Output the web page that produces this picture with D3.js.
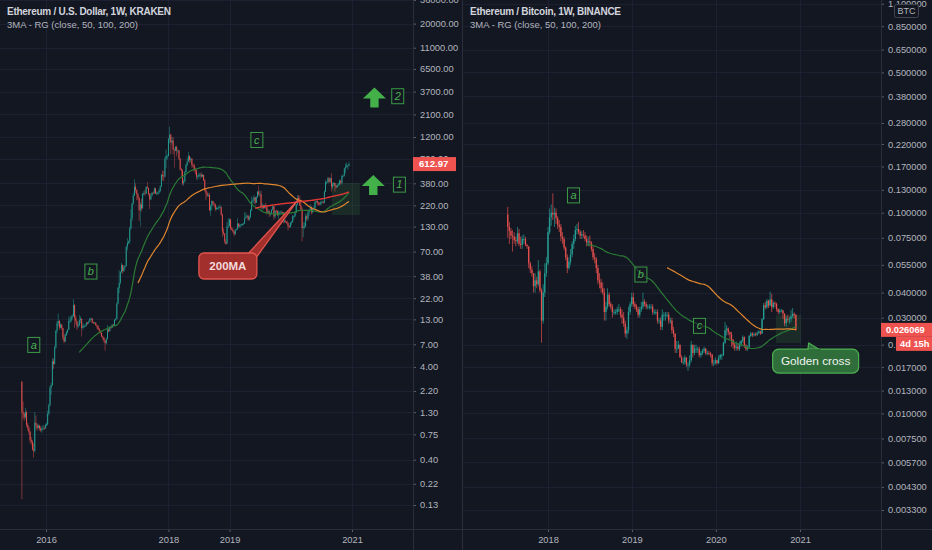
<!DOCTYPE html>
<html><head><meta charset="utf-8">
<script src="https://cdn.jsdelivr.net/npm/d3@7"></script>
<style>
html,body{margin:0;padding:0;background:#131722;overflow:hidden;}
svg{display:block;}
</style></head><body>
<svg id="c" width="932" height="550"></svg>
<script>
// ---------------- DATA ----------------
// Weekly candles [high, low, close]; open = previous close
const ethUsdStart = "2015-08-10";
const ethUsdFirstOpen = 2.77;
const ethUsd2015 = [[2.8,0.15,1.3],[1.7,1.1,1.25],[1.3,1.05,1.15],[1.45,1.1,1.3],[1.35,0.9,0.95],[1.0,0.82,0.88],[0.92,0.75,0.8],[0.82,0.6,0.65],[0.7,0.58,0.62],[0.65,0.5,0.52],[0.6,0.42,0.5],[1.3,0.48,1.0],[1.2,0.85,0.95],[0.98,0.82,0.88],[0.98,0.85,0.93],[0.95,0.82,0.87],[0.92,0.8,0.83],[0.92,0.78,0.86],[0.95,0.82,0.88],[0.92,0.84,0.87],[0.98,0.85,0.95]];
const ethUsd2016 = [[1.0,0.92,0.96],[1.35,0.93,1.25],[1.6,1.2,1.55],[2.5,1.5,2.4],[2.7,2.0,2.55],[5.0,2.5,4.6],[4.9,3.8,4.3],[6.8,4.2,6.5],[10.0,6.2,9.8],[12.5,9.2,11.8],[15.0,11.0,12.5],[12.8,10.0,10.6],[12.0,10.4,11.4],[11.6,10.0,10.5],[10.6,7.8,8.3],[9.0,7.2,7.5],[9.2,7.4,8.8],[9.8,8.6,9.4],[10.3,9.2,10.0],[14.0,10.0,12.5],[13.5,12.0,12.6],[14.5,12.0,14.0],[14.8,13.0,14.0],[21.5,14.0,18.5],[19.0,10.5,13.5],[14.5,11.5,12.5],[12.6,10.0,10.9],[12.0,10.5,11.2],[14.5,11.0,12.8],[14.0,11.8,13.2],[13.3,8.5,10.5],[12.0,10.0,11.0],[11.5,10.5,11.0],[11.5,10.7,11.2],[12.3,10.9,12.0],[12.2,11.4,11.8],[12.6,11.6,12.3],[13.5,12.2,13.2],[13.6,12.8,13.3],[13.4,11.8,12.0],[12.3,11.6,11.9],[12.2,11.8,12.0],[12.1,11.0,11.3],[11.4,10.3,11.0],[11.2,10.0,10.2],[10.5,9.5,9.8],[9.9,9.0,9.3],[9.4,8.3,8.5],[8.7,7.8,8.3],[8.4,7.3,7.7],[7.9,6.0,7.2],[8.3,7.0,8.0]];
const ethUsd2017 = [[11.3,7.9,10.1],[10.5,9.4,9.7],[11.0,9.6,10.7],[10.9,10.3,10.6],[11.6,10.5,11.4],[11.6,10.9,11.3],[13.0,11.2,12.8],[13.6,12.5,13.2],[19.8,13.0,19.2],[29.0,18.8,28.4],[44.0,25.0,32.2],[43.0,31.0,42.0],[53.0,41.0,50.0],[51.0,40.0,43.0],[50.0,42.0,47.5],[50.0,45.0,49.0],[80.0,48.0,79.0],[98.0,72.0,87.0],[92.0,84.0,90.0],[130.0,85.0,124.0],[200.0,120.0,158.0],[235.0,150.0,230.0],[300.0,225.0,280.0],[420.0,280.0,350.0],[380.0,300.0,320.0],[330.0,250.0,290.0],[300.0,250.0,265.0],[270.0,150.0,195.0],[240.0,130.0,225.0],[260.0,190.0,205.0],[300.0,200.0,295.0],[315.0,280.0,300.0],[325.0,280.0,295.0],[350.0,290.0,350.0],[395.0,330.0,340.0],[340.0,280.0,295.0],[300.0,200.0,255.0],[295.0,250.0,280.0],[305.0,275.0,300.0],[310.0,290.0,298.0],[345.0,295.0,335.0],[340.0,290.0,295.0],[310.0,285.0,295.0],[310.0,285.0,305.0],[330.0,290.0,315.0],[360.0,305.0,350.0],[480.0,350.0,470.0],[520.0,410.0,460.0],[520.0,400.0,450.0],[730.0,440.0,700.0],[880.0,560.0,750.0],[780.0,680.0,750.0]];
const ethUsd2018 = [[1170,740,1150],[1550,1030,1270],[1300,780,1050],[1200,990,1100],[1200,780,880],[900,560,860],[960,840,940],[970,740,860],[880,800,860],[870,680,700],[710,520,540],[560,450,520],[540,360,380],[420,360,400],[520,390,500],[620,500,600],[710,580,650],[830,650,750],[760,630,680],[730,640,700],[710,560,600],[620,560,590],[620,500,530],[560,470,520],[540,420,450],[470,410,455],[495,440,470],[490,425,470],[500,440,450],[480,440,470],[470,400,410],[420,310,320],[325,250,300],[310,270,280],[300,270,285],[300,190,195],[225,170,215],[250,195,245],[245,220,230],[235,210,225],[230,190,200],[215,195,205],[210,200,205],[220,195,210],[225,205,210],[215,170,175],[180,100,115],[125,105,110],[110,85,90],[95,82,85],[145,85,130],[160,125,133],[160,130,155]];
const ethUsd2019 = [[158,120,125],[130,118,120],[125,112,115],[118,102,108],[122,105,120],[124,118,122],[160,120,140],[142,126,130],[138,125,135],[140,130,138],[142,132,138],[143,135,140],[185,140,160],[185,160,165],[175,160,170],[175,150,155],[170,150,165],[200,160,195],[275,190,245],[265,230,250],[285,230,270],[270,225,235],[275,235,270],[315,265,310],[360,280,290],[320,270,290],[315,200,210],[235,190,220],[225,200,205],[225,205,220],[235,200,210],[215,175,185],[200,180,190],[195,165,178],[185,168,180],[200,175,198],[225,195,215],[215,155,167],[195,160,192],[197,175,190],[195,170,172],[195,155,183],[190,175,185],[195,180,187],[190,180,185],[185,140,150],[155,142,150],[155,143,148],[150,138,141],[145,118,132],[135,125,128],[145,127,143]];
const ethUsd2020 = [[150,135,145],[175,143,168],[172,155,168],[190,165,185],[228,180,225],[285,220,265],[285,245,250],[280,215,218],[250,195,200],[210,90,125],[145,100,130],[145,122,130],[180,128,168],[175,150,158],[190,150,185],[200,170,195],[228,190,210],[215,175,185],[205,180,200],[215,195,205],[245,198,240],[250,230,245],[250,220,235],[240,220,230],[240,220,225],[245,220,240],[250,235,240],[245,228,235],[320,232,310],[415,305,390],[400,370,390],[445,380,430],[445,380,395],[440,385,430],[490,310,350],[390,330,370],[390,355,385],[385,310,355],[365,335,345],[370,340,365],[385,360,370],[420,360,405],[415,370,385],[470,370,455],[475,440,460],[560,450,550],[620,490,570],[635,560,590],[605,530,590],[650,580,612.97]];

const ethBtcStart = "2017-07-10";
const ethBtcFirstOpen = 0.098;
const ethBtc2017 = [[0.107,0.075,0.085],[0.09,0.07,0.081],[0.084,0.074,0.077],[0.082,0.064,0.076],[0.08,0.07,0.073],[0.076,0.068,0.072],[0.085,0.07,0.079],[0.083,0.068,0.07],[0.076,0.066,0.069],[0.077,0.066,0.074],[0.078,0.07,0.074],[0.076,0.068,0.069],[0.07,0.066,0.068],[0.068,0.053,0.056],[0.057,0.05,0.052],[0.054,0.048,0.05],[0.05,0.04,0.043],[0.05,0.04,0.046],[0.048,0.042,0.044],[0.058,0.043,0.051],[0.052,0.04,0.041],[0.042,0.0225,0.029],[0.044,0.028,0.04],[0.056,0.038,0.05],[0.06,0.048,0.056]];
const ethBtc2018 = [[0.085,0.055,0.08],[0.105,0.078,0.095],[0.11,0.086,0.1],[0.125,0.092,0.098],[0.106,0.085,0.1],[0.105,0.088,0.094],[0.096,0.083,0.087],[0.092,0.08,0.085],[0.088,0.072,0.076],[0.08,0.07,0.074],[0.076,0.065,0.067],[0.068,0.058,0.06],[0.062,0.05,0.053],[0.06,0.052,0.057],[0.066,0.055,0.062],[0.072,0.06,0.07],[0.078,0.066,0.074],[0.086,0.072,0.082],[0.088,0.078,0.083],[0.09,0.078,0.08],[0.082,0.074,0.077],[0.081,0.074,0.078],[0.082,0.075,0.077],[0.08,0.072,0.074],[0.077,0.068,0.071],[0.076,0.068,0.072],[0.077,0.068,0.071],[0.072,0.064,0.066],[0.068,0.058,0.06],[0.063,0.056,0.059],[0.06,0.05,0.053],[0.055,0.044,0.046],[0.05,0.042,0.045],[0.047,0.04,0.042],[0.045,0.039,0.04],[0.042,0.029,0.032],[0.036,0.029,0.034],[0.042,0.033,0.039],[0.04,0.034,0.035],[0.036,0.033,0.034],[0.035,0.03,0.032],[0.033,0.031,0.032],[0.033,0.031,0.032],[0.034,0.031,0.033],[0.035,0.032,0.033],[0.034,0.03,0.031],[0.033,0.028,0.03],[0.032,0.027,0.028],[0.029,0.024,0.025],[0.027,0.0235,0.026],[0.034,0.025,0.032],[0.036,0.031,0.035],[0.04,0.034,0.038]];
const ethBtc2019 = [[0.04,0.034,0.035],[0.036,0.033,0.034],[0.035,0.032,0.033],[0.034,0.03,0.031],[0.034,0.03,0.033],[0.036,0.032,0.034],[0.04,0.033,0.036],[0.037,0.034,0.035],[0.036,0.033,0.034],[0.035,0.033,0.034],[0.035,0.033,0.034],[0.035,0.033,0.034],[0.035,0.031,0.032],[0.033,0.031,0.032],[0.033,0.031,0.032],[0.033,0.028,0.029],[0.03,0.028,0.029],[0.03,0.026,0.027],[0.033,0.026,0.031],[0.032,0.029,0.031],[0.032,0.029,0.031],[0.032,0.03,0.031],[0.032,0.028,0.029],[0.03,0.028,0.029],[0.03,0.025,0.026],[0.027,0.024,0.025],[0.025,0.02,0.021],[0.023,0.02,0.021],[0.023,0.021,0.022],[0.022,0.019,0.019],[0.0195,0.0178,0.018],[0.019,0.0175,0.018],[0.0195,0.0175,0.019],[0.019,0.017,0.0175],[0.018,0.0163,0.0175],[0.0195,0.017,0.0184],[0.023,0.018,0.022],[0.022,0.019,0.02],[0.022,0.0195,0.021],[0.022,0.02,0.021],[0.0215,0.02,0.021],[0.0215,0.019,0.0195],[0.0205,0.019,0.02],[0.021,0.0195,0.0205],[0.0215,0.02,0.021],[0.0212,0.0195,0.02],[0.0205,0.0195,0.02],[0.0205,0.0195,0.0199],[0.0202,0.019,0.0196],[0.0198,0.0172,0.0178],[0.0185,0.0172,0.0178],[0.019,0.0175,0.0184]];
const ethBtc2020 = [[0.0185,0.0175,0.0178],[0.0195,0.0176,0.0189],[0.0198,0.0185,0.0195],[0.0198,0.0185,0.0195],[0.0228,0.0193,0.0225],[0.0285,0.0222,0.026],[0.0275,0.0245,0.0265],[0.0268,0.0245,0.0254],[0.0256,0.0235,0.0248],[0.0255,0.0215,0.0233],[0.0235,0.021,0.022],[0.0225,0.0205,0.0212],[0.0228,0.0206,0.0215],[0.0222,0.0205,0.021],[0.0228,0.0205,0.022],[0.0232,0.0215,0.023],[0.0245,0.0225,0.024],[0.0242,0.0212,0.0218],[0.0222,0.0205,0.0209],[0.0218,0.0205,0.0214],[0.0246,0.021,0.0243],[0.0255,0.024,0.025],[0.0254,0.024,0.0245],[0.0253,0.0242,0.0248],[0.0253,0.0242,0.0247],[0.0256,0.0243,0.0252],[0.026,0.0248,0.0256],[0.0258,0.0246,0.025],[0.0298,0.0249,0.0295],[0.0355,0.0292,0.0346],[0.036,0.033,0.0338],[0.0372,0.0332,0.0364],[0.0368,0.0335,0.0345],[0.0405,0.0342,0.037],[0.0395,0.032,0.0338],[0.0362,0.0332,0.0354],[0.0362,0.0338,0.0352],[0.0356,0.0322,0.0331],[0.0334,0.0312,0.032],[0.0332,0.0312,0.0325],[0.0332,0.0318,0.0326],[0.0328,0.0295,0.0314],[0.0316,0.0272,0.0281],[0.0305,0.027,0.0296],[0.031,0.0285,0.0295],[0.0302,0.028,0.0296],[0.0328,0.0285,0.0305],[0.0335,0.0298,0.0314],[0.0318,0.0298,0.031],[0.0312,0.0258,0.026069]];

const usdTicks = [36000,20000,11000,6500,3700,2100,1200,700,380,220,130,70,38,22,13,7,4,2.2,1.3,0.75,0.4,0.22,0.13];
const btcTicks = [1.1,0.85,0.65,0.5,0.38,0.28,0.22,0.17,0.13,0.1,0.075,0.055,0.04,0.03,0.022,0.017,0.013,0.01,0.0075,0.0057,0.0043,0.0033];
const usdYears = [2016,2018,2019,2021];
const btcYears = [2018,2019,2020,2021];
const maPeriods = [50,100,200];

const usdTitle = "Ethereum / U.S. Dollar, 1W, KRAKEN";
const btcTitle = "Ethereum / Bitcoin, 1W, BINANCE";
const indicatorTitle = "3MA - RG (close, 50, 100, 200)";
const usdLast = 612.97, btcLast = 0.026069, btcCountdown = "4d 15h";

// ---------------- HELPERS ----------------
const BG='#131722', GRID='#1c2030', BORDER='#2a2e39', TXT='#b2b5be';
const UP='#26a69a', DOWN='#ef5350';
const MA_COL = {50:'#2b7a35', 100:'#e0872d', 200:'#e53935'};
const FONT='"Liberation Sans", Arial, sans-serif';
const svg = d3.select('#c');
svg.append('rect').attr('width',932).attr('height',550).attr('fill',BG);

function utc(s){ return new Date(s+'T00:00:00Z'); }
function buildCandles(start, firstOpen, rows){
  const t0 = utc(start).getTime(); let prev = firstOpen;
  return rows.map((r,i)=>{ const c={date:new Date(t0+i*7*864e5), open:prev, high:r[0], low:r[1], close:r[2]}; prev=r[2]; return c; });
}
function sma(candles, n){
  const out=[];
  for(let i=n-1;i<candles.length;i++){
    let s=0; for(let k=i-n+1;k<=i;k++) s+=candles[k].close;
    out.push({date:candles[i].date, v:s/n});
  }
  return out;
}

const usdCandles = buildCandles(ethUsdStart, ethUsdFirstOpen, [].concat(ethUsd2015,ethUsd2016,ethUsd2017,ethUsd2018,ethUsd2019,ethUsd2020));
const btcCandles = buildCandles(ethBtcStart, ethBtcFirstOpen, [].concat(ethBtc2017,ethBtc2018,ethBtc2019,ethBtc2020));

function drawPanel(cfg){
  const g = svg.append('g');
  const id = 'clip'+cfg.key;
  svg.append('clipPath').attr('id',id).append('rect').attr('x',cfg.x0).attr('y',0).attr('width',cfg.x1-cfg.x0).attr('height',cfg.yBot);
  const x = cfg.x, y = cfg.y;
  // grid
  const grid = g.append('g').attr('clip-path',`url(#${id})`);
  grid.selectAll('line.h').data(cfg.ticks).join('line')
    .attr('x1',cfg.x0).attr('x2',cfg.x1).attr('y1',d=>Math.round(y(d))+0.5).attr('y2',d=>Math.round(y(d))+0.5)
    .attr('stroke',GRID).attr('stroke-width',1);
  const yearDates = cfg.years.map(yr=>new Date(Date.UTC(yr,0,1)));
  grid.selectAll('line.v').data(yearDates).join('line')
    .attr('x1',d=>Math.round(x(d))+0.5).attr('x2',d=>Math.round(x(d))+0.5).attr('y1',0).attr('y2',cfg.yBot)
    .attr('stroke',GRID).attr('stroke-width',1);

  const plot = g.append('g').attr('clip-path',`url(#${id})`);
  // shaded box
  if(cfg.shade){
    const s=cfg.shade;
    plot.append('rect').attr('x',x(utc(s.d0))).attr('width',x(utc(s.d1))-x(utc(s.d0)))
      .attr('y',y(s.p1)).attr('height',y(s.p0)-y(s.p1)).attr('fill','rgba(76,175,80,0.14)');
  }
  // candles
  const wk = x(new Date(Date.UTC(2019,0,8))) - x(new Date(Date.UTC(2019,0,1)));
  const bw = Math.max(0.9, wk*0.82);
  const cg = plot.append('g');
  cg.selectAll('line').data(cfg.candles).join('line')
    .attr('x1',d=>x(d.date)).attr('x2',d=>x(d.date))
    .attr('y1',d=>y(Math.max(d.high,d.open,d.close))).attr('y2',d=>y(Math.min(d.low,d.open,d.close)))
    .attr('stroke',d=>d.close>=d.open?UP:DOWN).attr('stroke-width',Math.min(0.8,bw*0.6)).attr('opacity',0.85);
  cg.selectAll('rect').data(cfg.candles).join('rect')
    .attr('x',d=>x(d.date)-bw/2).attr('width',bw)
    .attr('y',d=>y(Math.max(d.open,d.close)))
    .attr('height',d=>Math.max(0.8, y(Math.min(d.open,d.close))-y(Math.max(d.open,d.close))))
    .attr('fill',d=>d.close>=d.open?UP:DOWN).attr('opacity',0.9);
  // moving averages
  const line = d3.line().x(d=>x(d.date)).y(d=>y(d.v));
  maPeriods.forEach(n=>{
    const m = sma(cfg.candles,n);
    if(m.length<2) return;
    plot.append('path').datum(m).attr('d',line).attr('fill','none')
      .attr('stroke',MA_COL[n]).attr('stroke-width',n===200?1.4:1.2);
  });

  // price axis
  const ax = d3.axisRight(y).tickValues(cfg.ticks).tickFormat(cfg.fmt).tickSize(3).tickPadding(4);
  const ag = svg.append('g').attr('transform',`translate(${cfg.x1},0)`).call(ax);
  ag.select('.domain').remove();
  ag.selectAll('line').attr('stroke','#5d606b');
  ag.selectAll('text').attr('fill',TXT).attr('font-size',9.3).attr('font-family',FONT);

  // time axis
  const tx = d3.axisBottom(x).tickValues(yearDates).tickFormat(d3.utcFormat('%Y')).tickSize(3).tickPadding(4);
  const tg = svg.append('g').attr('transform',`translate(0,${cfg.yBot})`).call(tx);
  tg.select('.domain').remove();
  tg.selectAll('line').attr('stroke','#5d606b');
  tg.selectAll('text').attr('fill',TXT).attr('font-size',9.3).attr('font-family',FONT);

  // borders
  svg.append('line').attr('x1',cfg.x1+0.5).attr('x2',cfg.x1+0.5).attr('y1',0).attr('y2',550).attr('stroke',BORDER);
  svg.append('line').attr('x1',cfg.x0).attr('x2',cfg.xEnd).attr('y1',cfg.yBot+0.5).attr('y2',cfg.yBot+0.5).attr('stroke',BORDER);

  // titles
  svg.append('text').attr('x',cfg.x0+7).attr('y',15).attr('fill','#d1d4dc').attr('font-size',10).attr('font-family',FONT).attr('font-weight',600).attr('textLength',cfg.titleLen).text(cfg.title);
  svg.append('text').attr('x',cfg.x0+7).attr('y',28).attr('fill','#b2b5be').attr('font-size',9.5).attr('font-family',FONT).text(indicatorTitle);
  return g;
}

function letterBox(g, x, y, t){
  g.append('rect').attr('x',x-6).attr('y',y-7.5).attr('width',12).attr('height',15)
    .attr('fill','rgba(19,23,34,0.5)').attr('stroke','#3c9a47').attr('stroke-width',1);
  g.append('text').attr('x',x).attr('y',y+3.6).attr('text-anchor','middle').attr('font-style','italic')
    .attr('font-size',11).attr('font-family',FONT).attr('fill','#4caf50').text(t);
}
function upArrow(g,cx,cy){
  const p=`M${cx},${cy-10} L${cx+11.5},${cy+1} L${cx+4.2},${cy+1} L${cx+4.2},${cy+10} L${cx-4.2},${cy+10} L${cx-4.2},${cy+1} L${cx-11.5},${cy+1} Z`;
  g.append('path').attr('d',p).attr('fill','#43b04a');
}

// ---------------- LEFT PANEL ----------------
const xL = d3.scaleUtc().domain([utc('2016-01-01'),utc('2021-01-01')]).range([46,352]);
const yL = d3.scaleLog().domain([0.13,1200]).range([505,137]);
const gL = drawPanel({key:'L', x0:0, x1:413, xEnd:462, yBot:529, x:xL, y:yL, ticks:usdTicks,
  fmt:d=>d.toFixed(2), years:usdYears, candles:usdCandles, title:usdTitle, titleLen:164,
  shade:{d0:'2020-09-03', d1:'2021-02-17', p0:173, p1:384}});

// ---------------- RIGHT PANEL ----------------
const xR = d3.scaleUtc().domain([utc('2018-01-01'),utc('2021-01-01')]).range([548,800]);
const yR = d3.scaleLog().domain([0.0033,0.28]).range([510,123]);
const gR = drawPanel({key:'R', x0:463, x1:881, xEnd:932, yBot:529, x:xR, y:yR, ticks:btcTicks,
  fmt:d=>d.toFixed(6), years:btcYears, candles:btcCandles, title:btcTitle, titleLen:151,
  shade:{d0:'2020-09-18', d1:'2021-01-05', p0:0.02245, p1:0.031}});

// panel divider
svg.append('line').attr('x1',462.5).attr('x2',462.5).attr('y1',0).attr('y2',550).attr('stroke','#2a2e39').attr('stroke-width',1.2);

// ---------------- ANNOTATIONS LEFT ----------------
const aL = svg.append('g');
letterBox(aL, xL(utc('2015-10-20')), yL(6.9), 'a');
letterBox(aL, xL(utc('2016-09-25')), yL(42.6), 'b');
letterBox(aL, xL(utc('2019-06-13')), yL(1115), 'c');
upArrow(aL, xL(utc('2021-05-08')), yL(365));
upArrow(aL, xL(utc('2021-05-15')), yL(3200));
letterBox(aL, xL(utc('2021-10-11')), yL(368), '1');
letterBox(aL, xL(utc('2021-10-01')), yL(3300), '2');

// 200MA callout
{
  const cx = xL(utc('2018-12-22')), cy = yL(48.9), w=58, h=26;
  const tipX = xL(utc('2020-02-13')), tipY = yL(252);
  const top = cy-h/2;
  const col='#a32f2c', st='#e0554d';
  aL.append('path').attr('d',`M${cx+19},${top+2} L${tipX},${tipY} L${cx+28},${top+5} Z`)
    .attr('fill',col).attr('stroke',st).attr('stroke-width',1.3).attr('stroke-linejoin','round');
  aL.append('rect').attr('x',cx-w/2).attr('y',top).attr('width',w).attr('height',h).attr('rx',5)
    .attr('fill',col).attr('stroke',st).attr('stroke-width',1.3);
  aL.append('text').attr('x',cx).attr('y',cy+4.2).attr('text-anchor','middle').attr('fill','#f3dcdc')
    .attr('font-weight','bold').attr('font-size',11.5).attr('font-family',FONT).text('200MA');
}

// last price label left
{
  const yy = yL(usdLast);
  svg.append('rect').attr('x',413).attr('y',yy-7).attr('width',43).attr('height',14).attr('fill','#ef5350');
  svg.append('text').attr('x',419).attr('y',yy+3.4).attr('fill','#fff').attr('font-size',9.6).attr('font-weight','bold').attr('font-family',FONT).text(usdLast.toFixed(2));
}

// ---------------- ANNOTATIONS RIGHT ----------------
const aR = svg.append('g');
letterBox(aR, xR(utc('2018-04-22')), yR(0.122), 'a');
letterBox(aR, xR(utc('2019-02-09')), yR(0.0492), 'b');
letterBox(aR, xR(utc('2019-10-22')), yR(0.0273), 'c');
{
  const cx = xR(utc('2021-03-10')), cy = yR(0.01823), w=86, h=24;
  const tipX = xR(utc('2021-02-08')), tipY = yR(0.02245);
  const top = cy-h/2;
  const col='#2f6e3b', st='#4caf50';
  aR.append('path').attr('d',`M${cx-8},${top+2} L${tipX},${tipY} L${cx+6},${top+2} Z`)
    .attr('fill',col).attr('stroke',st).attr('stroke-width',1.2).attr('stroke-linejoin','round');
  aR.append('rect').attr('x',cx-w/2).attr('y',top).attr('width',w).attr('height',h).attr('rx',6)
    .attr('fill',col).attr('stroke',st).attr('stroke-width',1.2);
  aR.append('path').attr('d',`M${cx-7},${top+1} L${cx+5},${top+1}`).attr('stroke',col).attr('stroke-width',2);
  aR.append('text').attr('x',cx).attr('y',cy+4.3).attr('text-anchor','middle').attr('fill','#f0f3f0')
    .attr('font-size',11.8).attr('font-family',FONT).text('Golden cross');
}
{
  const yy = yR(btcLast);
  svg.append('rect').attr('x',881).attr('y',yy-7).attr('width',51).attr('height',14).attr('fill','#ef5350');
  svg.append('text').attr('x',886).attr('y',yy+3.4).attr('fill','#fff').attr('font-size',9.3).attr('font-weight','bold').attr('font-family',FONT).text(btcLast.toFixed(6));
  svg.append('rect').attr('x',896).attr('y',yy+7).attr('width',36).attr('height',14).attr('fill','#ef5350');
  svg.append('text').attr('x',900).attr('y',yy+17.4).attr('fill','#fff').attr('font-size',9.3).attr('font-weight','bold').attr('font-family',FONT).text(btcCountdown);
}
// BTC currency box
svg.append('rect').attr('x',894.5).attr('y',4.5).attr('width',24).attr('height',13).attr('rx',2).attr('fill',BG).attr('stroke','#434651');
svg.append('text').attr('x',906.5).attr('y',14).attr('text-anchor','middle').attr('fill',TXT).attr('font-size',9).attr('font-family',FONT).text('BTC');
</script>
</body></html>
